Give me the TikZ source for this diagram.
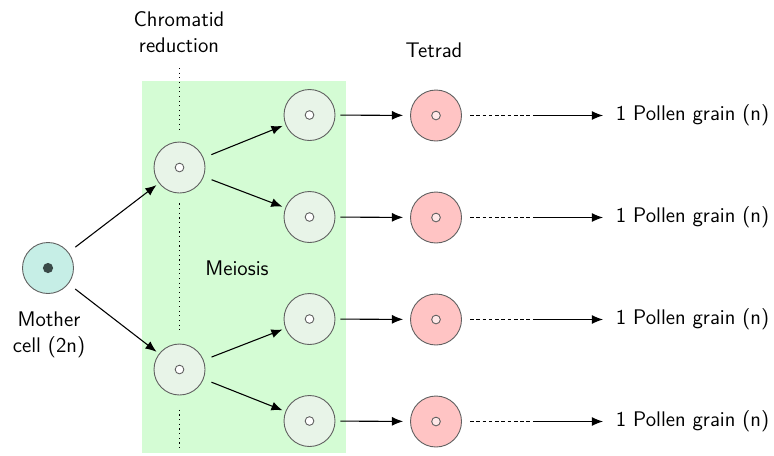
\documentclass[tikz,border=0pt]{standalone}
\usepackage{fontspec}
\usetikzlibrary{arrows.meta}
\definecolor{meiosisgreen}{RGB}{212,252,212}
\definecolor{cellfill}{RGB}{232,244,232}
\definecolor{motherfill}{RGB}{198,238,230}
\definecolor{tetradfill}{RGB}{255,196,196}
\definecolor{tetradinner}{RGB}{255,232,232}
\definecolor{cellborder}{RGB}{96,96,96}
\definecolor{dotdark}{RGB}{58,74,72}
\tikzset{
  cellbase/.style={circle, minimum size=1cm, inner sep=0pt, draw=cellborder, line width=0.5pt},
  daughter/.style={cellbase, fill=cellfill,
    path picture={\draw[cellborder, line width=0.5pt, fill=white] (path picture bounding box.center) circle (0.085cm);}},
  mothercell/.style={cellbase, fill=motherfill,
    path picture={\fill[dotdark] (path picture bounding box.center) circle (0.1cm);}},
  tetradcell/.style={cellbase, fill=tetradfill,
    path picture={\draw[cellborder, line width=0.5pt, fill=tetradinner] (path picture bounding box.center) circle (0.085cm);}},
  txt/.style={font=\sffamily\fontsize{11.8}{14.5}\selectfont, align=center},
  arr/.style={-{Latex[length=6.2pt,width=5pt]}, line width=0.6pt},
  diverge/.style={arr, shorten <=4.7pt, shorten >=1.7pt},
  dotline/.style={dotted, line width=0.6pt, shorten <=5.6pt, shorten >=5.6pt},
}
\begin{document}
\begin{tikzpicture}[x=0.0196cm, y=-0.0196cm]
\useasboundingbox (0,0) rectangle (774,455);
% meiosis region
\fill[meiosisgreen] (142,81) rectangle (346,453);
% cells
\node[mothercell] (m) at (48,268) {};
\node[daughter] (d1) at (179.5,167.5) {};
\node[daughter] (d2) at (179.5,369.5) {};
\node[daughter] (s1) at (309.5,115) {};
\node[daughter] (s2) at (309.5,217) {};
\node[daughter] (s3) at (309.5,319) {};
\node[daughter] (s4) at (309.5,421) {};
\node[tetradcell] (t1) at (436,115.5) {};
\node[tetradcell] (t2) at (436,217.5) {};
\node[tetradcell] (t3) at (436,319.5) {};
\node[tetradcell] (t4) at (436,421.5) {};
% texts
\node[txt] (chrom) at (179,32) {Chromatid\\reduction};
\node[txt] (tetrad) at (434,50) {Tetrad};
\node[txt] (meio) at (237,268) {Meiosis};
\node[txt] (mlab) at (49,335) {Mother\\cell (2n)};
\foreach \i/\y in {1/115.5,2/217.5,3/319.5,4/421.5}{
  \node[txt, anchor=west, inner sep=2pt] (p\i) at (612,\y) {1 Pollen grain (n)};
  \coordinate (c\i) at (533,\y);
}
% dotted line
\coordinate (dtop) at (179.5,68);
\coordinate (dbot) at (179.5,448);
\draw[dotline, shorten <=0pt] (dtop) -- (d1);
\draw[dotline] (d1) -- (d2);
\draw[dotline, shorten >=0pt, shorten <=8pt] (d2) -- (dbot);
% arrows
\draw[diverge] (m) -- (d1);
\draw[diverge] (m) -- (d2);
\draw[diverge] (d1) -- (s1);
\draw[diverge] (d1) -- (s2);
\draw[diverge] (d2) -- (s3);
\draw[diverge] (d2) -- (s4);
\foreach \i in {1,2,3,4}{
  \draw[arr, shorten <=2.8pt, shorten >=3.9pt] (s\i) -- (t\i);
  \draw[line width=0.6pt, dash pattern=on 2pt off 1.5pt, shorten <=4.5pt] (t\i.east) -- (c\i);
  \draw[arr, shorten >=5pt] (c\i) -- (p\i.west);
}
\end{tikzpicture}
\end{document}
